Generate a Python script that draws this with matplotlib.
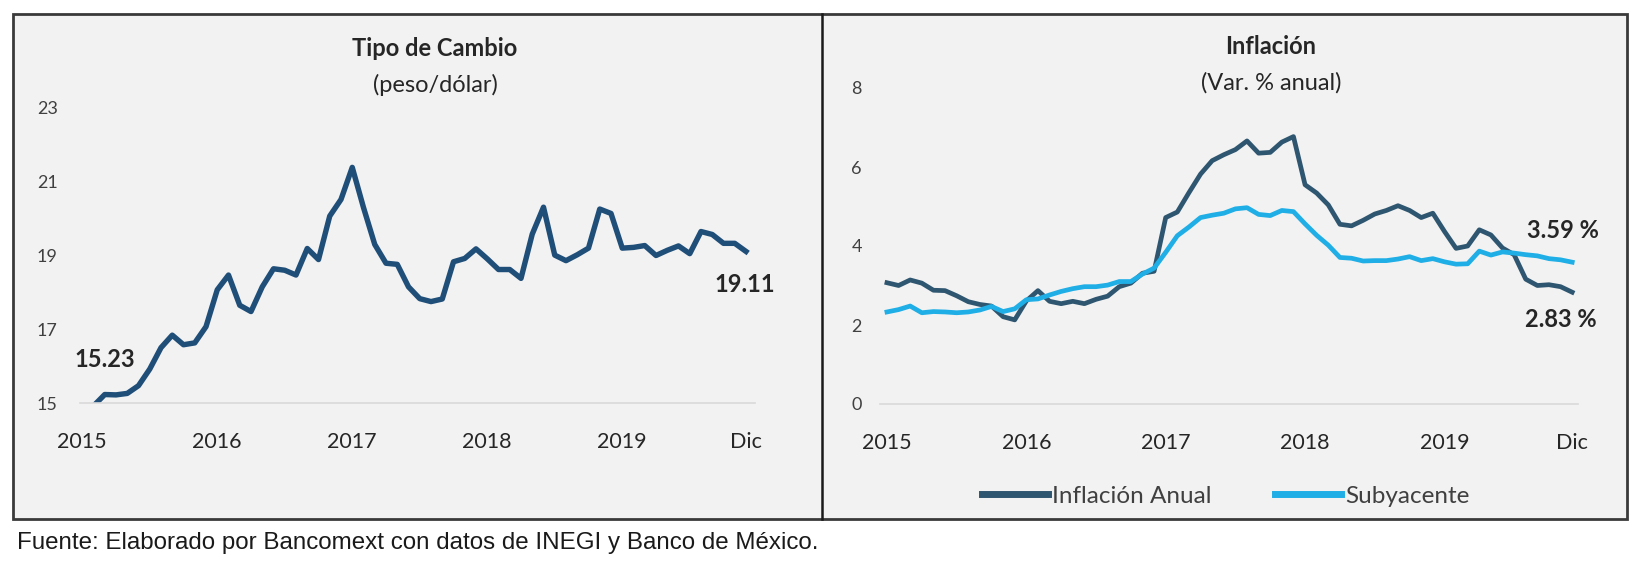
import matplotlib
matplotlib.use("Agg")
import matplotlib.pyplot as plt
from matplotlib.patches import Rectangle
from matplotlib.lines import Line2D

W, H = 1640, 565

# Tipo de cambio, promedio mensual (peso/dolar), ene 2015 - dic 2019
tipo_cambio = [
    14.69, 14.92, 15.23, 15.22, 15.26, 15.47, 15.92, 16.50, 16.84, 16.58, 16.63, 17.07,
    18.07, 18.47, 17.65, 17.48, 18.15, 18.64, 18.60, 18.47, 19.19, 18.89, 20.07, 20.52,
    21.39, 20.30, 19.30, 18.79, 18.76, 18.15, 17.83, 17.75, 17.82, 18.83, 18.92, 19.18,
    18.91, 18.62, 18.62, 18.38, 19.58, 20.31, 19.01, 18.86, 19.02, 19.20, 20.26, 20.14,
    19.20, 19.22, 19.27, 19.00, 19.14, 19.26, 19.05, 19.65, 19.57, 19.33, 19.33, 19.11,
]

# Inflacion anual (var. % anual)
inflacion_anual = [
    3.07, 3.00, 3.14, 3.06, 2.88, 2.87, 2.74, 2.59, 2.52, 2.48, 2.21, 2.13,
    2.61, 2.87, 2.60, 2.54, 2.60, 2.54, 2.65, 2.73, 2.97, 3.06, 3.31, 3.36,
    4.72, 4.86, 5.35, 5.82, 6.16, 6.31, 6.44, 6.66, 6.35, 6.37, 6.63, 6.77,
    5.55, 5.34, 5.04, 4.55, 4.51, 4.65, 4.81, 4.90, 5.02, 4.90, 4.72, 4.83,
    4.37, 3.94, 4.00, 4.41, 4.28, 3.95, 3.78, 3.16, 3.00, 3.02, 2.97, 2.83,
]
subyacente = [
    2.33, 2.39, 2.48, 2.31, 2.34, 2.33, 2.31, 2.33, 2.38, 2.47, 2.34, 2.41,
    2.64, 2.66, 2.76, 2.85, 2.92, 2.97, 2.97, 3.01, 3.10, 3.10, 3.29, 3.44,
    3.84, 4.26, 4.48, 4.72, 4.78, 4.83, 4.94, 4.97, 4.80, 4.77, 4.90, 4.87,
    4.56, 4.27, 4.02, 3.71, 3.69, 3.62, 3.63, 3.63, 3.67, 3.73, 3.63, 3.68,
    3.60, 3.54, 3.55, 3.87, 3.77, 3.85, 3.82, 3.78, 3.75, 3.68, 3.65, 3.59,
]

tick_pos = [0, 12, 24, 36, 48, 59]
tick_labels = ["2015", "2016", "2017", "2018", "2019", "Dic"]

months = list(range(len(tipo_cambio)))

plt.rcParams['font.family'] = ['Lato', 'DejaVu Sans']

navy = "#1F4E79"
dark = "#2F5670"
light = "#1FAEE6"
txt = "#262626"


def box(x0, y0, x1, y1):
    return [x0 / W, 1 - y1 / H, (x1 - x0) / W, (y1 - y0) / H]


def fxy(x, y):
    return x / W, 1 - y / H


fig = plt.figure(figsize=(W / 100, H / 100), dpi=100)
fig.patch.set_facecolor("white")

fig.patches.append(Rectangle(fxy(13, 519), 1614 / W, 505 / H, transform=fig.transFigure,
                             facecolor="#F2F2F2", edgecolor="#3A3A3A", lw=2, zorder=-5))
fig.lines.append(Line2D([822 / W, 822 / W], [1 - 14 / H, 1 - 519 / H], transform=fig.transFigure,
                        color="#1A1A1A", lw=1.8, zorder=-4))


def style(ax, ypad):
    ax.set_facecolor("none")
    for s in ["top", "right", "left"]:
        ax.spines[s].set_visible(False)
    ax.spines["bottom"].set_color("#D9D9D9")
    ax.spines["bottom"].set_linewidth(1.2)
    ax.set_xticks(tick_pos)
    ax.set_xticklabels(tick_labels)
    ax.tick_params(axis="x", length=0, pad=21, labelsize=15.5, labelcolor=txt)
    ax.tick_params(axis="y", length=0, pad=ypad, labelsize=13, labelcolor="#404040")


# izquierda: tipo de cambio
ax1 = fig.add_axes(box(80, 108, 755, 403))
ax1.plot(months, tipo_cambio, color=navy, lw=3.9, solid_joinstyle="round")
ax1.set_xlim(-0.2, 59.8)
ax1.set_ylim(15, 23)
ax1.set_yticks([15, 17, 19, 21, 23])
style(ax1, 16)
ax1.annotate(f"{tipo_cambio[2]:.2f}", (2, tipo_cambio[2]), xytext=(0, 25), textcoords="offset points",
             ha="center", va="center", fontsize=17, fontweight="bold", color=txt)
ax1.annotate(f"{tipo_cambio[-1]:.2f}", (59, tipo_cambio[-1]), xytext=(-1, -24), textcoords="offset points",
             ha="center", va="center", fontsize=17, fontweight="bold", color=txt)
fig.text(*fxy(435, 48), "Tipo de Cambio", ha="center", va="center", fontsize=17, fontweight="bold", color=txt)
fig.text(*fxy(435, 85), "(peso/dólar)", ha="center", va="center", fontsize=17, color=txt)

# derecha: inflacion
ax2 = fig.add_axes(box(880, 88, 1578, 404))
l1, = ax2.plot(months, inflacion_anual, color=dark, lw=3.4, solid_joinstyle="round", label="Inflación Anual")
l2, = ax2.plot(months, subyacente, color=light, lw=3.4, solid_joinstyle="round", label="Subyacente")
ax2.set_xlim(-0.6, 59.5)
ax2.set_ylim(0, 8)
ax2.set_yticks([0, 2, 4, 6, 8])
style(ax2, 13)
ax2.annotate(f"{subyacente[-1]:.2f} %", (59, subyacente[-1]), xytext=(-7, 23), textcoords="offset points",
             ha="center", va="center", fontsize=17, fontweight="bold", color=txt)
ax2.annotate(f"{inflacion_anual[-1]:.2f} %", (59, inflacion_anual[-1]), xytext=(-8, -20), textcoords="offset points",
             ha="center", va="center", fontsize=17, fontweight="bold", color=txt)
fig.text(*fxy(1271, 47), "Inflación", ha="center", va="center", fontsize=17, fontweight="bold", color=txt)
fig.text(*fxy(1271, 83), "(Var. % anual)", ha="center", va="center", fontsize=17, color=txt)

leg = fig.legend(handles=[l1, l2], loc="center", bbox_to_anchor=fxy(1226, 496), ncol=2, frameon=False,
                 fontsize=17.5, handlelength=2.7, handletextpad=0.2, columnspacing=2.6, labelcolor="#404040")
for h in leg.legend_handles:
    h.set_linewidth(5)

fig.text(*fxy(17, 543), "Fuente: Elaborado por Bancomext con datos de INEGI y Banco de México.",
         ha="left", va="center", fontsize=17.4, family="Liberation Sans", color="#1A1A1A")

fig.savefig("out.png", dpi=100)
